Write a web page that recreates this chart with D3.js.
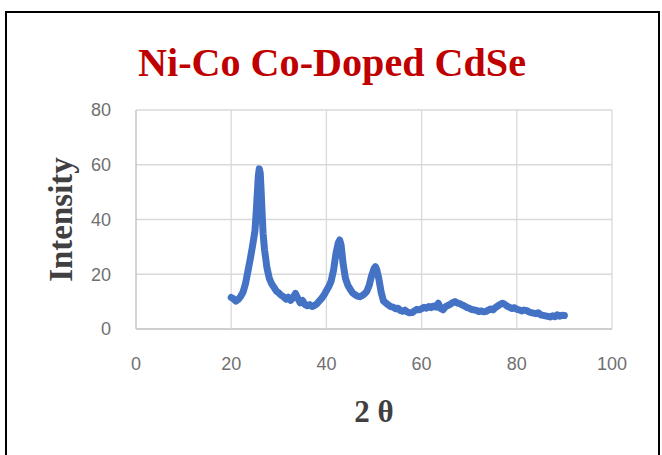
<!DOCTYPE html>
<html>
<head>
<meta charset="utf-8">
<script src="https://cdn.jsdelivr.net/npm/d3@7"></script>
<style>
  body { margin: 0; background: #fff; }
  svg { display: block; }
</style>
</head>
<body>
<svg width="662" height="455"></svg>
<script>
// data (2 theta, intensity)
var twoTheta = [20.0, 20.5, 21.0, 21.5, 22.0, 22.5, 23.0, 23.5, 24.0, 24.5, 25.0, 25.3, 25.5, 25.7, 25.9, 26.1, 26.3, 26.5, 26.7, 27.0,
  27.5, 28.0, 28.5, 29.0, 29.5, 30.0, 30.5, 31.0, 31.5, 32.0, 32.5, 33.0, 33.5, 34.0, 34.5, 35.0, 35.5, 36.0, 36.5, 37.0,
  37.5, 38.0, 38.5, 39.0, 39.5, 40.0, 40.5, 41.0, 41.5, 42.0, 42.5, 42.8, 43.1, 43.5, 44.0, 44.5, 45.0, 45.5, 46.0, 46.5,
  47.0, 47.5, 48.0, 48.5, 49.0, 49.5, 50.0, 50.3, 50.6, 51.0, 51.5, 52.0, 52.5, 53.0, 53.5, 54.0, 54.5, 55.0, 55.5, 56.0,
  56.5, 57.0, 57.5, 58.0, 58.5, 59.0, 59.5, 60.0, 60.5, 61.0, 61.5, 62.0, 62.5, 63.0, 63.5, 64.0, 64.5, 65.0, 65.5, 66.0,
  66.5, 67.0, 67.5, 68.0, 68.5, 69.0, 69.5, 70.0, 70.5, 71.0, 71.5, 72.0, 72.5, 73.0, 73.5, 74.0, 74.5, 75.0, 75.5, 76.0,
  76.5, 77.0, 77.5, 78.0, 78.5, 79.0, 79.5, 80.0, 80.5, 81.0, 81.5, 82.0, 82.5, 83.0, 83.5, 84.0, 84.5, 85.0, 85.5, 86.0,
  86.5, 87.0, 87.5, 88.0, 88.5, 89.0, 89.5, 90.0];
var intensity = [11.5, 11.0, 10.2, 10.8, 11.9, 13.5, 16.5, 21.0, 25.5, 30.5, 36.0, 44.0, 50.0, 56.0, 58.5, 57.0, 50.0, 42.0, 35.0, 29.0,
  22.5, 18.5, 16.5, 15.2, 13.8, 13.2, 12.3, 11.8, 10.9, 11.6, 10.5, 11.4, 13.0, 11.2, 9.6, 10.4, 8.9, 8.5, 8.9, 8.2,
  8.6, 9.2, 10.2, 11.2, 12.4, 14.0, 15.5, 17.5, 21.5, 27.5, 31.5, 32.5, 30.5, 24.0, 18.5, 16.0, 14.5, 13.2, 12.6, 12.0,
  11.8, 12.2, 12.8, 13.8, 16.0, 19.5, 22.0, 22.8, 21.5, 18.5, 13.5, 10.2, 9.5, 8.8, 8.2, 8.0, 7.4, 7.6, 6.8, 6.5,
  6.9, 6.2, 5.9, 6.0, 6.6, 7.2, 7.0, 7.4, 7.9, 7.6, 8.2, 7.8, 8.4, 8.0, 9.4, 7.5, 7.0, 8.1, 8.6, 9.0,
  9.6, 10.0, 9.5, 9.3, 8.8, 8.4, 7.9, 7.6, 7.1, 7.0, 6.8, 6.4, 6.6, 6.3, 6.4, 6.9, 7.3, 7.0, 7.8, 8.4,
  9.0, 9.4, 9.0, 8.3, 7.9, 7.5, 7.8, 7.2, 7.0, 6.6, 6.9, 6.8, 6.3, 6.0, 5.8, 5.6, 5.9, 5.2, 5.0, 4.8,
  4.6, 4.4, 4.8, 4.5, 5.2, 4.7, 5.0, 4.9];

var xTicks = [0, 20, 40, 60, 80, 100];
var yTicks = [0, 20, 40, 60, 80];
var title = "Ni-Co Co-Doped CdSe";
var xTitle = "2 \u03b8";
var yTitle = "Intensity";

var svg = d3.select("svg");

// outer frame
svg.append("rect")
    .attr("x", 6).attr("y", 12)
    .attr("width", 653).attr("height", 460)
    .attr("fill", "none")
    .attr("stroke", "#000")
    .attr("stroke-width", 2);

var plotLeft = 136, plotRight = 612, plotTop = 110, plotBottom = 329;

var x = d3.scaleLinear().domain([0, 100]).range([plotLeft, plotRight]);
var y = d3.scaleLinear().domain([0, 80]).range([plotBottom, plotTop]);

// gridlines
svg.append("g")
    .selectAll("line")
    .data(yTicks)
    .enter().append("line")
        .attr("x1", plotLeft).attr("x2", plotRight)
        .attr("y1", function(d){ return y(d); })
        .attr("y2", function(d){ return y(d); })
        .attr("stroke", function(d){ return d == 0 ? "#bfbfbf" : "#d9d9d9"; })
        .attr("stroke-width", 1.3);
svg.append("g")
    .selectAll("line")
    .data(xTicks)
    .enter().append("line")
        .attr("x1", function(d){ return x(d); })
        .attr("x2", function(d){ return x(d); })
        .attr("y1", plotTop).attr("y2", plotBottom)
        .attr("stroke", function(d){ return d == 0 ? "#bfbfbf" : "#d9d9d9"; })
        .attr("stroke-width", 1.3);

// tick labels
svg.append("g")
    .selectAll("text")
    .data(xTicks)
    .enter().append("text")
        .attr("x", function(d){ return x(d); })
        .attr("y", 370)
        .attr("text-anchor", "middle")
        .attr("font-family", "Liberation Sans, sans-serif")
        .attr("font-size", 18)
        .attr("fill", "#707070")
        .text(function(d){ return d; });
svg.append("g")
    .selectAll("text")
    .data(yTicks)
    .enter().append("text")
        .attr("x", 111)
        .attr("y", function(d){ return y(d); })
        .attr("dy", "0.35em")
        .attr("text-anchor", "end")
        .attr("font-family", "Liberation Sans, sans-serif")
        .attr("font-size", 18)
        .attr("fill", "#707070")
        .text(function(d){ return d; });

// the pattern
var points = twoTheta.map(function(t, i){ return [t, intensity[i]]; });
var line = d3.line()
    .x(function(d){ return x(d[0]); })
    .y(function(d){ return y(d[1]); });
svg.append("path")
    .datum(points)
    .attr("d", line)
    .attr("fill", "none")
    .attr("stroke", "#4472c4")
    .attr("stroke-width", 7)
    .attr("stroke-linejoin", "round")
    .attr("stroke-linecap", "round");

// titles
svg.append("text")
    .attr("x", 138).attr("y", 76)
    .attr("textLength", 388)
    .attr("lengthAdjust", "spacingAndGlyphs")
    .attr("font-family", "Liberation Serif, serif")
    .attr("font-weight", "bold")
    .attr("font-size", 40)
    .attr("fill", "#c00000")
    .text(title);

svg.append("text")
    .attr("x", (plotLeft + plotRight) / 2).attr("y", 422)
    .attr("text-anchor", "middle")
    .attr("font-family", "Liberation Serif, serif")
    .attr("font-weight", "bold")
    .attr("font-size", 31)
    .attr("fill", "#404040")
    .text(xTitle);

svg.append("text")
    .attr("transform", "translate(72," + ((plotTop + plotBottom) / 2) + ") rotate(-90)")
    .attr("text-anchor", "middle")
    .attr("font-family", "Liberation Serif, serif")
    .attr("font-weight", "bold")
    .attr("font-size", 33)
    .attr("fill", "#404040")
    .text(yTitle);
</script>
</body>
</html>
